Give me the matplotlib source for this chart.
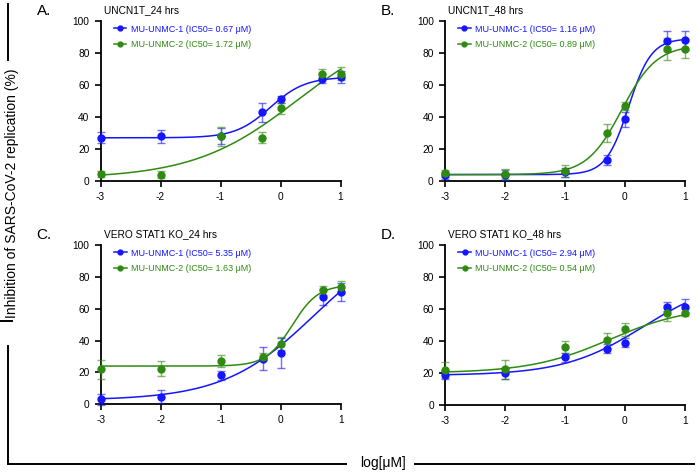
import numpy as np
import matplotlib
matplotlib.use("Agg")
import matplotlib.pyplot as plt
from matplotlib.lines import Line2D

plt.rcParams['font.family'] = ['Liberation Sans', 'DejaVu Sans']

# ---------------- data ----------------
log_conc = [-3, -2, -1, -0.301, 0, 0.699, 1]

panel_letters = ["A.", "B.", "C.", "D."]
panel_titles = ["UNCN1T_24 hrs", "UNCN1T_48 hrs", "VERO STAT1 KO_24 hrs", "VERO STAT1 KO_48 hrs"]
ic50_1 = ["0.67", "1.16", "5.35", "2.94"]
ic50_2 = ["1.72", "0.89", "1.63", "0.54"]

# MU-UNMC-1 means / errors per panel
a_m1 = [27, 28, 28, 43, 51, 64, 65]
a_e1 = [3.5, 4, 5, 6, 2, 3, 4]
b_m1 = [3.5, 3.8, 5.4, 13, 38.5, 87.5, 88]
b_e1 = [2, 3, 3, 3, 4.5, 6, 6]
c_m1 = [3.1, 4.8, 18.2, 28.7, 32, 67.2, 70.5]
c_e1 = [3.5, 4, 3, 7, 9.5, 5, 5.5]
d_m1 = [18.5, 19.8, 29.8, 35.2, 39, 61.5, 61.5]
d_e1 = [2.5, 3.5, 3, 3, 3, 3, 4.5]

# MU-UNMC-2 means / errors per panel
a_m2 = [4.5, 4, 28, 27, 45.5, 67, 67]
a_e2 = [2, 2, 6, 3.5, 3.5, 3, 4]
b_m2 = [4.8, 4.5, 6.2, 30, 47, 82.5, 82.8]
b_e2 = [2, 3, 4, 5.5, 2.5, 7, 6]
c_m2 = [22, 22.4, 27.2, 30, 38, 71.5, 73.6]
c_e2 = [6, 4.5, 4, 2, 4, 3, 4]
d_m2 = [21.9, 22.3, 36.2, 40.4, 47.3, 57.7, 57.7]
d_e2 = [5, 6, 4, 4.5, 4, 5, 2]

# fitted 4PL curve parameters: bottom, top, logIC50, hill
a_fit1 = [27, 65, -0.17, 1.5]
a_fit2 = [1.5, 100, 0.29, 0.5]
b_fit1 = [4, 89, 0.064, 2.3]
b_fit2 = [4, 85, -0.05, 1.5]
c_fit1 = [2.5, 110, 0.57, 0.571]
c_fit2 = [24, 75, 0.19, 2.0]
d_fit1 = [18.5, 80, 0.322, 0.648]
d_fit2 = [20, 62, -0.25, 0.65]

means1 = [a_m1, b_m1, c_m1, d_m1]
errs1 = [a_e1, b_e1, c_e1, d_e1]
means2 = [a_m2, b_m2, c_m2, d_m2]
errs2 = [a_e2, b_e2, c_e2, d_e2]
fits1 = [a_fit1, b_fit1, c_fit1, d_fit1]
fits2 = [a_fit2, b_fit2, c_fit2, d_fit2]

x_ticks = [-3, -2, -1, 0, 1]
y_ticks = [0, 20, 40, 60, 80, 100]

# ---------------- style ----------------
BLUE = '#1515ff'
GREEN = '#2f8a12'
W, H = 696, 472

fig = plt.figure(figsize=(W / 100, H / 100), dpi=100)

def fx(px):
    return px / W

def fy(py):
    return 1 - py / H

# axes pixel boxes: (x at -3, x at 1, y at 0, y at 100)
boxes = [(100.5, 340.5, 181, 21), (444.8, 684.8, 181, 21),
         (100.7, 340.7, 404.3, 245), (445, 684.7, 405, 245)]

def four_pl(x, p):
    b, t, m, h = p
    return b + (t - b) / (1 + 10 ** ((m - x) * h))

xs = np.linspace(-3, 1, 300)

for i, (x0, x1, y0, y1) in enumerate(boxes):
    ax = fig.add_axes([fx(x0), fy(y0), fx(x1) - fx(x0), (y0 - y1) / H])
    ax.set_xlim(-3, 1)
    ax.set_ylim(0, 100)
    for s in ['top', 'right']:
        ax.spines[s].set_visible(False)
    for s in ['left', 'bottom']:
        ax.spines[s].set_linewidth(1.3)
    ax.set_xticks(x_ticks)
    ax.set_xticklabels([str(v) for v in x_ticks])
    ax.set_yticks(y_ticks)
    ax.tick_params(direction='out', length=4, width=1.2, labelsize=7.3, pad=4)
    ax.patch.set_alpha(0)

    for means, errs, fit, col, ic, name in [
            (means1[i], errs1[i], fits1[i], BLUE, ic50_1[i], 'MU-UNMC-1'),
            (means2[i], errs2[i], fits2[i], GREEN, ic50_2[i], 'MU-UNMC-2')]:
        ax.plot(xs, four_pl(xs, fit), color=col, lw=1.1, clip_on=False, zorder=3)
        ax.errorbar(log_conc, means, yerr=errs, fmt='none', ecolor=col, alpha=0.6,
                    elinewidth=1.0, capsize=3, capthick=1.0, clip_on=False, zorder=4)
        ax.plot(log_conc, means, 'o', color=col, ms=5, clip_on=False, zorder=5)
        ax.plot([], [], '-o', color=col, lw=1.1, ms=3.5,
                label=f'{name} (IC50= {ic} \u03bcM)')

    ax.legend(loc='upper left', bbox_to_anchor=(0.04, 1.0), frameon=False,
              fontsize=6.5, handlelength=1.4, handletextpad=0.5,
              labelspacing=0.75, labelcolor='linecolor', borderaxespad=0)

    tx = x0 + 3
    ty = y1 - 11
    fig.text(fx(tx), fy(ty), panel_titles[i], fontsize=7.3, ha='left', va='center')
    fig.text(fx(x0 - 64), fy(ty + 1), panel_letters[i], fontsize=11, ha='left', va='center')

# outer labels
fig.text(fx(12), fy(193), 'Inhibition of SARS-CoV-2 replication (%)', rotation=90,
         fontsize=10, ha='center', va='center')
fig.text(fx(383), fy(463), 'log[\u03bcM]', fontsize=10, ha='center', va='center')

# decorative bracket lines
def fline(xa, ya, xb, yb):
    fig.add_artist(Line2D([fx(xa), fx(xb)], [fy(ya), fy(yb)], color='black', lw=1.4))

fline(8, 4, 8, 60)
fline(1, 321, 12, 321)
fline(8, 346, 8, 463.5)
fline(8, 463.5, 346, 463.5)
fline(415, 463.5, 694, 463.5)

fig.savefig('out.png', dpi=100)
